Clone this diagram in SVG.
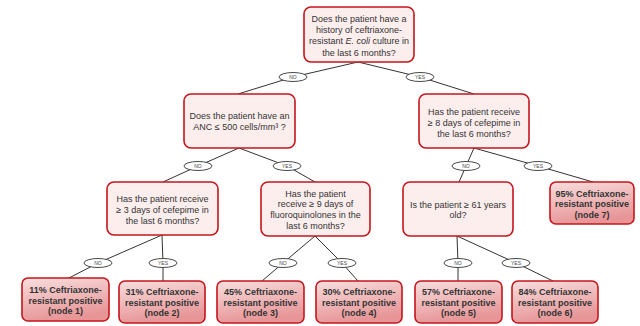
<svg xmlns="http://www.w3.org/2000/svg" width="640" height="326" viewBox="0 0 640 326">
<defs>
<linearGradient id="leafGrad" x1="0" y1="0" x2="0.3" y2="1">
<stop offset="0" stop-color="#f8dede"/>
<stop offset="1" stop-color="#e79597"/>
</linearGradient>
</defs>
<style>
.q rect{fill:#fdeeee;stroke:#c4161c;stroke-width:1.6}
.leaf rect{fill:url(#leafGrad);stroke:#c4161c;stroke-width:1.6}
.q text{font-family:"Liberation Sans",Arial,sans-serif;font-size:9px;fill:#333;text-anchor:middle}
.leaf text{font-family:"Liberation Sans",Arial,sans-serif;font-size:9px;font-weight:bold;fill:#333;text-anchor:middle}
.conn polyline{fill:none;stroke:#333;stroke-width:1}
.lab ellipse{fill:#fff;stroke:#333;stroke-width:0.9}
.lab text{font-family:"Liberation Sans",Arial,sans-serif;font-size:5px;fill:#444;text-anchor:middle}
</style>
<rect width="640" height="326" fill="#fff"/>
<g id="connectors" class="conn">
<polyline points="358,62 293,77 238,94"/>
<polyline points="358,62 420,77 474,94"/>
<polyline points="239,148 198,166 163,182"/>
<polyline points="239,148 287,166 315,182"/>
<polyline points="474,148 466,166 459,182"/>
<polyline points="474,148 538,166 593,182"/>
<polyline points="162,235 98,263 67,279"/>
<polyline points="162,235 163,263 163,281"/>
<polyline points="315,236 283,263 262,281"/>
<polyline points="315,236 342,263 358,281"/>
<polyline points="457,236 458,263 458,281"/>
<polyline points="457,236 516,263 553,281"/>
</g>
<g id="labels" class="lab">
<ellipse cx="293" cy="77" rx="14" ry="4.5"/><text x="293" y="78.8">NO</text>
<ellipse cx="420" cy="77" rx="14" ry="4.5"/><text x="420" y="78.8">YES</text>
<ellipse cx="198" cy="166" rx="14" ry="4.5"/><text x="198" y="167.8">NO</text>
<ellipse cx="287" cy="166" rx="14" ry="4.5"/><text x="287" y="167.8">YES</text>
<ellipse cx="466" cy="166" rx="14" ry="4.5"/><text x="466" y="167.8">NO</text>
<ellipse cx="538" cy="166" rx="14" ry="4.5"/><text x="538" y="167.8">YES</text>
<ellipse cx="98" cy="263" rx="14" ry="4.5"/><text x="98" y="264.8">NO</text>
<ellipse cx="163" cy="263" rx="14" ry="4.5"/><text x="163" y="264.8">YES</text>
<ellipse cx="283" cy="263" rx="14" ry="4.5"/><text x="283" y="264.8">NO</text>
<ellipse cx="342" cy="263" rx="14" ry="4.5"/><text x="342" y="264.8">YES</text>
<ellipse cx="458" cy="263" rx="14" ry="4.5"/><text x="458" y="264.8">NO</text>
<ellipse cx="516" cy="263" rx="14" ry="4.5"/><text x="516" y="264.8">YES</text>
</g>
<g id="q-root" class="q">
<rect x="304" y="7" width="110" height="55" rx="7"/>
<text x="359" y="22">Does the patient have a</text>
<text x="359" y="33.2">history of ceftriaxone-</text>
<text x="359" y="44.4">resistant <tspan font-style="italic">E. coli</tspan> culture in</text>
<text x="359" y="55.6">the last 6 months?</text>
</g>
<g id="q-anc" class="q">
<rect x="184" y="94" width="111" height="54" rx="7"/>
<text x="239.5" y="119">Does the patient have an</text>
<text x="239.5" y="130">ANC ≤ 500 cells/mm³ ?</text>
</g>
<g id="q-cefepime8" class="q">
<rect x="419" y="94" width="110" height="54" rx="7"/>
<text x="474" y="115">Has the patient receive</text>
<text x="474" y="126">≥ 8 days of cefepime in</text>
<text x="474" y="137">the last 6 months?</text>
</g>
<g id="q-cefepime3" class="q">
<rect x="107" y="182" width="111" height="53" rx="7"/>
<text x="162.5" y="201.5">Has the patient receive</text>
<text x="162.5" y="212.5">≥ 3 days of cefepime in</text>
<text x="162.5" y="223.5">the last 6 months?</text>
</g>
<g id="q-fluoro" class="q">
<rect x="261" y="182" width="109" height="54" rx="7"/>
<text x="315.5" y="196.5">Has the patient</text>
<text x="315.5" y="207.3">receive ≥ 9 days of</text>
<text x="315.5" y="218">fluoroquinolones in the</text>
<text x="315.5" y="228.7">last 6 months?</text>
</g>
<g id="q-age" class="q">
<rect x="403" y="182" width="110" height="54" rx="7"/>
<text x="458" y="207.5">Is the patient ≥ 61 years</text>
<text x="458" y="218">old?</text>
</g>
<g id="node1" class="leaf">
<rect x="22" y="278" width="87" height="43" rx="6"/>
<text x="65.5" y="293">11% Ceftriaxone-</text>
<text x="65.5" y="303.5">resistant positive</text>
<text x="65.5" y="314">(node 1)</text>
</g>
<g id="node2" class="leaf">
<rect x="119" y="281" width="86" height="42" rx="6"/>
<text x="162" y="295">31% Ceftriaxone-</text>
<text x="162" y="305.5">resistant positive</text>
<text x="162" y="316">(node 2)</text>
</g>
<g id="node3" class="leaf">
<rect x="217" y="281" width="87" height="42" rx="6"/>
<text x="260.5" y="295">45% Ceftriaxone-</text>
<text x="260.5" y="305.5">resistant positive</text>
<text x="260.5" y="316">(node 3)</text>
</g>
<g id="node4" class="leaf">
<rect x="316" y="281" width="86" height="42" rx="6"/>
<text x="359" y="295">30% Ceftriaxone-</text>
<text x="359" y="305.5">resistant positive</text>
<text x="359" y="316">(node 4)</text>
</g>
<g id="node5" class="leaf">
<rect x="415" y="281" width="87" height="42" rx="6"/>
<text x="458.5" y="295">57% Ceftriaxone-</text>
<text x="458.5" y="305.5">resistant positive</text>
<text x="458.5" y="316">(node 5)</text>
</g>
<g id="node6" class="leaf">
<rect x="512" y="281" width="86" height="42" rx="6"/>
<text x="555" y="295">84% Ceftriaxone-</text>
<text x="555" y="305.5">resistant positive</text>
<text x="555" y="316">(node 6)</text>
</g>
<g id="node7" class="leaf">
<rect x="550" y="182" width="84" height="42" rx="6"/>
<text x="592" y="196.5">95% Ceftriaxone-</text>
<text x="592" y="207">resistant positive</text>
<text x="592" y="217.5">(node 7)</text>
</g>
</svg>
